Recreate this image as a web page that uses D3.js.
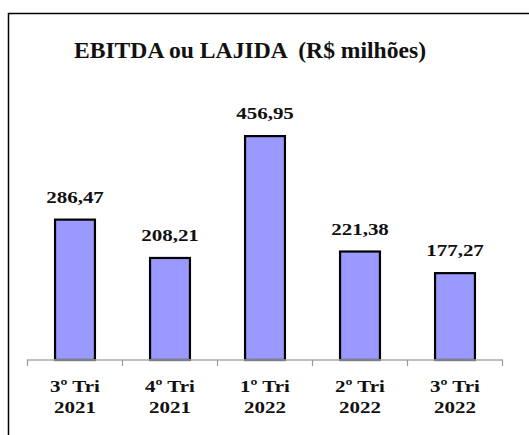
<!DOCTYPE html>
<html>
<head>
<meta charset="utf-8">
<script src="https://cdn.jsdelivr.net/npm/d3@7/dist/d3.min.js"></script>
<style>
  body { margin: 0; background: #fff; }
  text { font-family: "Liberation Serif", "Times New Roman", serif; font-weight: bold; fill: #111; }
</style>
</head>
<body>
<div class="panel"></div>
<script>
const periods = ["3º Tri", "4º Tri", "1º Tri", "2º Tri", "3º Tri"];
const years = ["2021", "2021", "2022", "2022", "2022"];
const ebitda = [286.47, 208.21, 456.95, 221.38, 177.27];

const width = 529;
const height = 435;

const svg = d3.select(".panel")
  .append("svg")
  .attr("width", width)
  .attr("height", height);

// outer frame (only left and top show in the crop)
svg.append("rect")
  .attr("x", 8.5).attr("y", 13.5)
  .attr("width", 540).attr("height", 440)
  .attr("fill", "none")
  .attr("stroke", "#000")
  .attr("stroke-width", 1.5);

// text in the original is a little stretched sideways
const stretch = 1.2;

svg.append("text")
  .attr("transform", "translate(250,58) scale(1.05,1)")
  .attr("text-anchor", "middle")
  .style("font-size", "22.5px")
  .style("white-space", "pre")
  .text("EBITDA ou LAJIDA  (R$ milhões)");

const data = ebitda.map((v, i) => ({ key: i, period: periods[i], year: years[i], value: v }));

const xScale = d3.scaleBand()
  .domain(data.map(d => d.key))
  .range([27.5, 502.5])
  .paddingInner(0.58)
  .paddingOuter(0.29);

const yScale = d3.scaleLinear()
  .domain([0, 500])
  .range([360, 115]);

const cx = d => xScale(d.key) + xScale.bandwidth() / 2;

svg.selectAll(".bar")
  .data(data)
  .enter()
  .append("rect")
  .attr("class", "bar")
  .attr("x", d => xScale(d.key))
  .attr("y", d => yScale(d.value))
  .attr("width", xScale.bandwidth())
  .attr("height", d => yScale(0) - yScale(d.value))
  .attr("fill", "#9999ff")
  .attr("stroke", "#000")
  .attr("stroke-width", 2.2);

svg.selectAll(".val")
  .data(data)
  .enter()
  .append("text")
  .attr("class", "val")
  .attr("transform", d => `translate(${cx(d)},${yScale(d.value) - 17}) scale(${stretch},1)`)
  .attr("text-anchor", "middle")
  .style("font-size", "17.5px")
  .text(d => d3.format(".2f")(d.value).replace(".", ","));

// axis line with ticks between categories
const step = xScale.step();
const axis = svg.append("g");
axis.append("line")
  .attr("x1", 27).attr("x2", 503)
  .attr("y1", 360).attr("y2", 360)
  .attr("stroke", "#aaa").attr("stroke-width", 1.6);
axis.selectAll(".tk")
  .data(d3.range(data.length + 1))
  .enter()
  .append("line")
  .attr("x1", i => 27.5 + i * step)
  .attr("x2", i => 27.5 + i * step)
  .attr("y1", 360).attr("y2", 366)
  .attr("stroke", "#999")
  .attr("stroke-width", 1.2);

const labels = svg.selectAll(".cat")
  .data(data)
  .enter()
  .append("g")
  .attr("transform", d => `translate(${cx(d)},0) scale(${stretch},1)`);
labels.append("text")
  .attr("y", 392)
  .attr("text-anchor", "middle")
  .style("font-size", "17.5px")
  .text(d => d.period);
labels.append("text")
  .attr("y", 413)
  .attr("text-anchor", "middle")
  .style("font-size", "17.5px")
  .text(d => d.year);
</script>
</body>
</html>
